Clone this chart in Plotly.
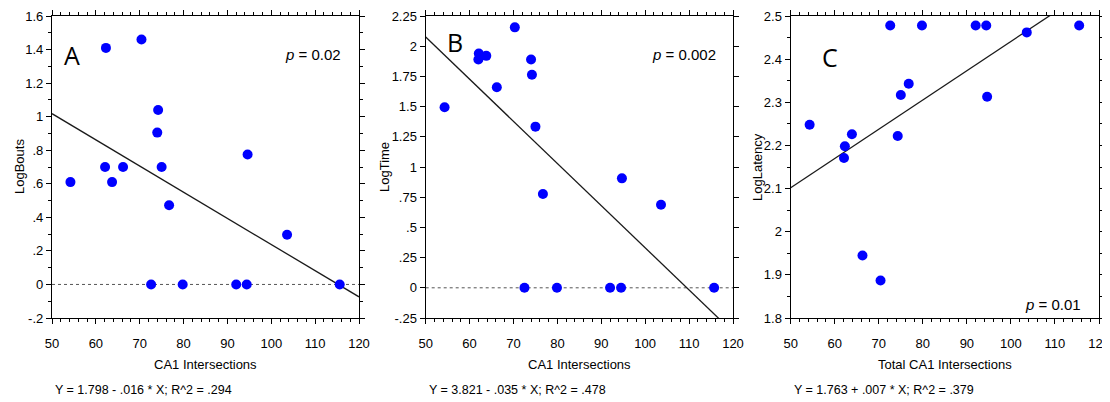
import plotly.graph_objects as go

# ---- data ----
x_a = [54.2, 62.3, 70.4, 74.2, 74.0, 62.1, 63.7, 66.2, 75.0, 94.6, 76.7, 103.6, 72.6, 79.8, 92.0, 94.4, 115.6]
y_a = [0.61, 1.41, 1.46, 1.04, 0.905, 0.70, 0.61, 0.70, 0.70, 0.775, 0.472, 0.296, 0, 0, 0, 0, 0]

x_b = [54.3, 62.1, 62.0, 63.8, 66.2, 70.3, 74.0, 74.2, 75.0, 76.7, 94.7, 103.6, 72.5, 79.9, 92.0, 94.5, 115.7]
y_b = [1.494, 1.94, 1.89, 1.92, 1.66, 2.156, 1.89, 1.764, 1.334, 0.777, 0.906, 0.688, 0, 0, 0, 0, 0]

x_c = [54.3, 72.6, 79.8, 92.0, 94.4, 115.5, 103.6, 76.8, 75.0, 94.6, 74.3, 63.9, 62.3, 62.1, 66.3, 70.4]
y_c = [2.248, 2.478, 2.478, 2.478, 2.478, 2.478, 2.462, 2.343, 2.317, 2.313, 2.222, 2.226, 2.198, 2.171, 1.945, 1.887]

# regression lines: intercept, slope
fit_a = (1.798, -0.0156)
fit_b = (3.821, -0.0349)
fit_c = (1.763, 0.00678)

x_range = [50, 120]
x_ticks = [50, 60, 70, 80, 90, 100, 110, 120]

ya_ticks = [-0.2, 0, 0.2, 0.4, 0.6, 0.8, 1, 1.2, 1.4, 1.6]
ya_labels = ["-.2", "0", ".2", ".4", ".6", ".8", "1", "1.2", "1.4", "1.6"]
yb_ticks = [-0.25, 0, 0.25, 0.5, 0.75, 1, 1.25, 1.5, 1.75, 2, 2.25]
yb_labels = ["-.25", "0", ".25", ".5", ".75", "1", "1.25", "1.5", "1.75", "2", "2.25"]
yc_ticks = [1.8, 1.9, 2, 2.1, 2.2, 2.3, 2.4, 2.5]
yc_labels = ["1.8", "1.9", "2", "2.1", "2.2", "2.3", "2.4", "2.5"]

y_titles = ["LogBouts", "LogTime", "LogLatency"]
x_titles = ["CA1 Intersections", "CA1 Intersections", "Total CA1 Intersections"]
equations = ["Y = 1.798 - .016 * X; R^2 = .294",
             "Y = 3.821 - .035 * X; R^2 = .478",
             "Y = 1.763 + .007 * X; R^2 = .379"]
letters = ["A", "B", "C"]
pvals = ["0.02", "0.002", "0.01"]

# page body has an 8px margin; figure sized to fill the rest of the window
OFF = 8
W, H = 1110 - OFF, 402 - OFF
FONT = "Liberation Sans, Arial"


def fx(p):
    return (p - OFF) / W


def fy(p):
    return 1 - (p - OFF) / H


# pixel geometry (window pixels)
px_left = [52, 425.7, 790.7]
px_right = [359, 733, 1099]
py_top, py_bot = 16, 318
ytitle_x = [19, 384, 757]

fig = go.Figure()

panels = [
    (x_a, y_a, fit_a, [-0.2, 1.6], ya_ticks, ya_labels, 0.1, True),
    (x_b, y_b, fit_b, [-0.25, 2.25], yb_ticks, yb_labels, None, True),
    (x_c, y_c, fit_c, [1.8, 2.5], yc_ticks, yc_labels, 0.05, False),
]

annotations = []
for i, (xs, ys, fit, yr, yt, yl, ymin, zero_line) in enumerate(panels):
    n = "" if i == 0 else str(i + 1)
    xa, ya = "x" + n, "y" + n
    if zero_line:
        fig.add_trace(go.Scatter(x=x_range, y=[0, 0], mode="lines", xaxis=xa, yaxis=ya,
                                 line=dict(color="#555555", width=1, dash="dot"),
                                 showlegend=False, hoverinfo="skip"))
    fig.add_trace(go.Scatter(x=x_range, y=[fit[0] + fit[1] * v for v in x_range], mode="lines",
                             xaxis=xa, yaxis=ya, line=dict(color="#1a1a1a", width=1.3),
                             showlegend=False, hoverinfo="skip"))
    fig.add_trace(go.Scatter(x=xs, y=ys, mode="markers", xaxis=xa, yaxis=ya,
                             marker=dict(color="#0000ff", size=10, line=dict(width=0)),
                             cliponaxis=False, showlegend=False))

    axis_common = dict(showline=True, linecolor="black", linewidth=1.3, mirror="allticks",
                       ticks="outside", ticklen=5, tickwidth=1, tickcolor="black",
                       showgrid=False, zeroline=False, automargin=False,
                       tickfont=dict(family=FONT, size=13, color="black"))
    fig.layout["xaxis" + n] = dict(domain=[fx(px_left[i]), fx(px_right[i])], range=x_range,
                                   tickvals=x_ticks, anchor=ya, ticklabelstandoff=8,
                                   minor=dict(dtick=2, ticks="outside", ticklen=3,
                                              tickcolor="black", showgrid=False),
                                   **axis_common)
    ydict = dict(domain=[fy(py_bot), fy(py_top)], range=yr, tickvals=yt, ticktext=yl,
                 anchor=xa, **axis_common)
    if ymin:
        ydict["minor"] = dict(dtick=ymin, tick0=yr[0], ticks="outside", ticklen=3,
                              tickcolor="black", showgrid=False)
    fig.layout["yaxis" + n] = ydict

    cx = (px_left[i] + px_right[i]) / 2
    annotations.append(dict(text=x_titles[i], x=fx(cx), y=fy(364), xref="paper", yref="paper",
                            showarrow=False, xanchor="center", yanchor="middle",
                            font=dict(family=FONT, size=13, color="black")))
    annotations.append(dict(text=equations[i], x=fx(px_left[i] + 1), y=fy(390),
                            xref="paper", yref="paper", showarrow=False,
                            xanchor="left", yanchor="middle",
                            font=dict(family=FONT, size=12.5, color="black")))
    annotations.append(dict(text=y_titles[i], x=fx(ytitle_x[i]), y=fy(167),
                            xref="paper", yref="paper", showarrow=False, textangle=-90,
                            xanchor="center", yanchor="middle",
                            font=dict(family=FONT, size=13, color="black")))

# panel letters
letter_pos = [(72, 55), (455, 42), (830, 57)]
for (lx, ly), t in zip(letter_pos, letters):
    annotations.append(dict(text=t, x=fx(lx), y=fy(ly), xref="paper", yref="paper",
                            showarrow=False, xanchor="center", yanchor="middle",
                            font=dict(family="Open Sans, Liberation Sans", size=25, color="black")))

# p-values
p_pos = [(343, 55), (718, 55), (1083, 304)]
for (lx, ly), t in zip(p_pos, pvals):
    annotations.append(dict(text="<i>p</i> = " + t, x=fx(lx), y=fy(ly), xref="paper",
                            yref="paper", showarrow=False, xanchor="right", yanchor="middle",
                            font=dict(family=FONT, size=15, color="black")))

fig.update_layout(width=W, height=H, margin=dict(l=0, r=0, t=0, b=0),
                  paper_bgcolor="white", plot_bgcolor="white",
                  annotations=annotations, showlegend=False)

fig.write_html("out.html")
